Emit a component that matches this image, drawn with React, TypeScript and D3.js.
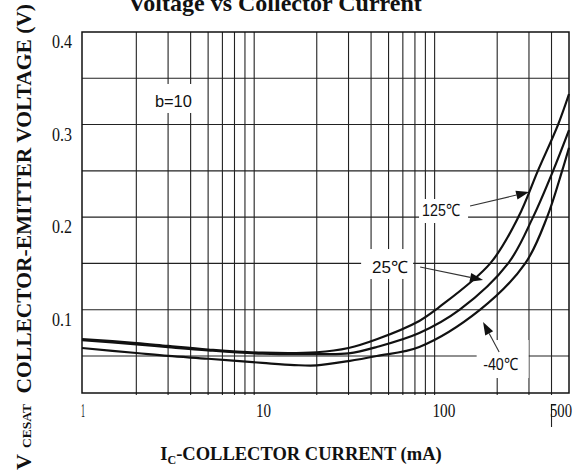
import React from 'react';
import * as d3 from 'd3';

const W = 584, H = 476;

// Series (Ic in mA, VCE(sat) in V)
const ic125 = [1, 2, 3, 5, 10, 20, 30, 43, 74, 94, 183, 262, 336, 435, 500];
const v125 = [0.0683, 0.064, 0.0608, 0.057, 0.0535, 0.054, 0.0586, 0.068, 0.0878, 0.1018, 0.15, 0.2, 0.25, 0.3, 0.333];
const ic25 = [1, 2, 3, 5, 10, 20, 30, 43, 74, 124, 230, 316, 408, 500];
const v25 = [0.0672, 0.0625, 0.0595, 0.056, 0.0525, 0.052, 0.0528, 0.0597, 0.0748, 0.1, 0.15, 0.2, 0.25, 0.294];
const icM40 = [1, 2, 3, 5, 10, 15, 20, 30, 43, 74, 161, 286, 378, 458, 500];
const vM40 = [0.0586, 0.0532, 0.05, 0.047, 0.0425, 0.0402, 0.0398, 0.0445, 0.05, 0.0597, 0.1, 0.15, 0.2, 0.25, 0.275];

const xGrid = [2, 3, 4, 5, 6, 7, 8, 9, 20, 30, 40, 50, 60, 70, 80, 90, 200, 300, 400];
const yGrid = [0.05, 0.1, 0.15, 0.2, 0.25, 0.3, 0.35];
const xTickVals = [1, 10, 100, 500];
const xTickText = ['1', '10', '100', '500'];
const xTickWidth = [4, 15, 23, 22];
const yTickVals = [0.1, 0.2, 0.3, 0.4];
const yTickText = ['0.1', '0.2', '0.3', '0.4'];

// annotation labels: text, anchor (Ic, V), box offsets
const labelText = ['b=10', '125℃', '25℃', '-40℃'];
const labelIc = [3.21, 97.7, 51, 209];
const labelV = [0.319, 0.2012, 0.1396, 0.0348];
const labelWidth = [37, 38, 36, 35];
const labelBox = [
  [-21, 21, -23, 6],
  [-22, 27, -17, 7],
  [-29, 23, -24, 6],
  [-24, 28, -30, 8],
];
// arrows: from (Ic,V) to tip (Ic,V)
const arrowFrom = [[141.5, 0.212], [74.8, 0.1461], [205, 0.0543]];
const arrowTo = [[300.6, 0.2271], [167, 0.1321], [167, 0.0867]];

export default function App() {
  const left = 82, right = 569, top = 32, bottom = 393;
  const x = d3.scaleLog().domain([1, 500]).range([left, right]);
  const y = d3.scaleLinear().domain([0.4 - (bottom - top) / 925.6, 0.4]).range([bottom, top]);

  const line = d3.line<[number, number]>()
    .x(d => x(d[0]))
    .y(d => y(d[1]))
    .curve(d3.curveCatmullRom.alpha(0.5));

  const series = [
    ic125.map((c, i) => [c, v125[i]] as [number, number]),
    ic25.map((c, i) => [c, v25[i]] as [number, number]),
    icM40.map((c, i) => [c, vM40[i]] as [number, number]),
  ];

  const serif = '"Liberation Serif", "Times New Roman", serif';
  const sans = '"Liberation Sans", Arial, sans-serif';

  const arrow = (k: number) => {
    const x0 = x(arrowFrom[k][0]), y0 = y(arrowFrom[k][1]);
    const x1 = x(arrowTo[k][0]), y1 = y(arrowTo[k][1]);
    const dx = x1 - x0, dy = y1 - y0;
    const len = Math.hypot(dx, dy);
    const ux = dx / len, uy = dy / len;
    const hl = 13, hw = 4.5;
    const bx = x1 - ux * hl, by = y1 - uy * hl;
    const head = `M${x1},${y1}L${bx - uy * hw},${by + ux * hw}L${bx + uy * hw},${by - ux * hw}Z`;
    return (
      <g key={'a' + k}>
        <line x1={x0} y1={y0} x2={bx} y2={by} stroke="#333" strokeWidth={1.1} />
        <path d={head} fill="#111" />
      </g>
    );
  };

  return (
    <svg width={W} height={H} style={{ position: 'absolute', left: 0, top: 0, background: '#fff' }}>
      <rect x={0} y={0} width={W} height={H} fill="#fff" />
      {/* title (clipped at top, as in the source) */}
      <text x={275} y={11} textAnchor="middle" fontFamily={serif} fontWeight="bold" fontSize={24} fill="#111">
        Voltage vs Collector Current
      </text>

      {/* grid */}
      {xGrid.map(v => (
        <line key={'xg' + v} x1={x(v)} x2={x(v)} y1={top} y2={bottom + 2} stroke="#222" strokeWidth={1.1} />
      ))}
      {yGrid.map(v => (
        <line key={'yg' + v} x1={left} x2={right} y1={y(v)} y2={y(v)} stroke="#222" strokeWidth={1.1} />
      ))}
      {/* stray mark at 400 through the 500 label */}
      <line x1={x(400)} x2={x(400)} y1={404} y2={427} stroke="#222" strokeWidth={1.1} />

      {/* label boxes breaking grid */}
      {labelText.map((t, i) => (
        <rect key={'lb' + i}
          x={x(labelIc[i]) + labelBox[i][0]} y={y(labelV[i]) + labelBox[i][2]}
          width={labelBox[i][1] - labelBox[i][0]} height={labelBox[i][3] - labelBox[i][2]}
          fill="#fff" />
      ))}

      {/* frame */}
      <rect x={left} y={top} width={right - left} height={bottom - top} fill="none" stroke="#111" strokeWidth={1.5} />

      {/* curves */}
      {series.map((s, i) => (
        <path key={'s' + i} d={line(s) || ''} fill="none" stroke="#111" strokeWidth={2.2} />
      ))}

      {/* labels */}
      {labelText.map((t, i) => (
        <text key={'lt' + i} x={x(labelIc[i])} y={y(labelV[i])} textAnchor="middle"
          fontFamily={sans} fontSize={17} fill="#111"
          textLength={labelWidth[i]} lengthAdjust="spacingAndGlyphs">{t}</text>
      ))}
      {[0, 1, 2].map(k => arrow(k))}

      {/* tick labels */}
      {yTickVals.map((v, i) => (
        <text key={'yt' + i} x={72} y={y(v) + 16} textAnchor="end" fontFamily={serif} fontSize={19} fill="#111"
          textLength={20} lengthAdjust="spacingAndGlyphs">{yTickText[i]}</text>
      ))}
      {xTickVals.map((v, i) => (
        <text key={'xt' + i} x={i === 3 ? 561 : x(v) + 1} y={417} textAnchor="middle" fontFamily={serif} fontSize={18} fill="#111"
          textLength={xTickWidth[i]} lengthAdjust="spacingAndGlyphs">{xTickText[i]}</text>
      ))}

      {/* axis titles */}
      <text x={301} y={460} textAnchor="middle" fontFamily={serif} fontWeight="bold" fontSize={18.5} fill="#111">
        I<tspan fontSize={12} dy={4}>C</tspan><tspan dy={-4}>-COLLECTOR CURRENT (mA)</tspan>
      </text>
      <g fontFamily={serif} fontWeight="bold" fill="#111">
        <text transform="translate(31,470) rotate(-90)" fontSize={22}>V</text>
        <text transform="translate(31,448) rotate(-90)" fontSize={13.5}>CESAT</text>
        <text transform="translate(31,4) rotate(-90)" textAnchor="end" fontSize={21.5}>COLLECTOR-EMITTER VOLTAGE (V)</text>
      </g>
    </svg>
  );
}
